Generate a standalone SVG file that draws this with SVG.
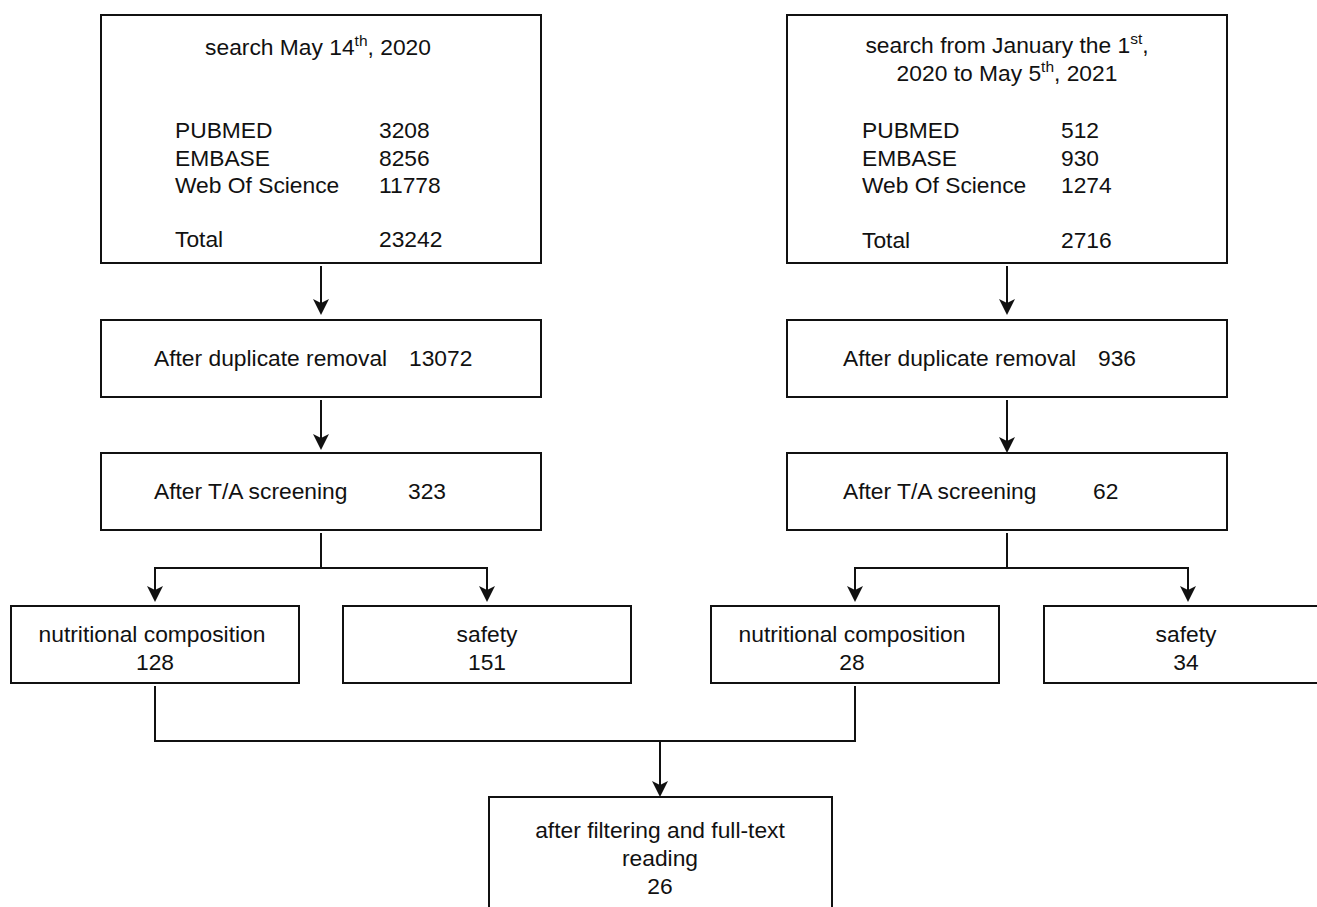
<svg xmlns="http://www.w3.org/2000/svg" width="1317" height="907" viewBox="0 0 1317 907">
<style>
.box{fill:#fff;stroke:#111;stroke-width:2}
.t{font-family:"Liberation Sans",Arial,sans-serif;font-size:22.8px;fill:#111}
.c{text-anchor:middle}
.sup{font-size:15.5px}
.edge{fill:none;stroke:#111;stroke-width:2}
</style>
<defs>
<marker id="ah" viewBox="0 0 16 16" refX="10" refY="8" markerWidth="16" markerHeight="16" orient="auto" markerUnits="userSpaceOnUse">
<path d="M0,0 L16,8 L0,16 L4,8 Z" fill="#111"/>
</marker>
</defs>
<rect width="1317" height="907" fill="#fff"/>

<g id="connectors">
<path class="edge" d="M321,266 V309" marker-end="url(#ah)"/>
<path class="edge" d="M321,400 V444" marker-end="url(#ah)"/>
<path class="edge" d="M321,533 V568 H155 V596" marker-end="url(#ah)"/>
<path class="edge" d="M321,568 H487 V596" marker-end="url(#ah)"/>
<path class="edge" d="M1007,266 V309" marker-end="url(#ah)"/>
<path class="edge" d="M1007,400 V447" marker-end="url(#ah)"/>
<path class="edge" d="M1007,533 V568 H855 V596" marker-end="url(#ah)"/>
<path class="edge" d="M1007,568 H1188 V596" marker-end="url(#ah)"/>
<path class="edge" d="M155,686 V741 H855 V686"/>
<path class="edge" d="M660,741 V791" marker-end="url(#ah)"/>
</g>

<g id="search1">
<rect class="box" x="101" y="15" width="440" height="248"/>
<text class="t c" x="318" y="55">search May 14<tspan class="sup" dy="-9">th</tspan><tspan dy="9">, 2020</tspan></text>
<text class="t" x="175" y="138">PUBMED</text><text class="t" x="379" y="138">3208</text>
<text class="t" x="175" y="166">EMBASE</text><text class="t" x="379" y="166">8256</text>
<text class="t" x="175" y="193">Web Of Science</text><text class="t" x="379" y="193">11778</text>
<text class="t" x="175" y="247">Total</text><text class="t" x="379" y="247">23242</text>
</g>

<g id="search2">
<rect class="box" x="787" y="15" width="440" height="248"/>
<text class="t c" x="1007" y="53">search from January the 1<tspan class="sup" dy="-9">st</tspan><tspan dy="9">,</tspan></text>
<text class="t c" x="1007" y="81">2020 to May 5<tspan class="sup" dy="-9">th</tspan><tspan dy="9">, 2021</tspan></text>
<text class="t" x="862" y="138">PUBMED</text><text class="t" x="1061" y="138">512</text>
<text class="t" x="862" y="166">EMBASE</text><text class="t" x="1061" y="166">930</text>
<text class="t" x="862" y="193">Web Of Science</text><text class="t" x="1061" y="193">1274</text>
<text class="t" x="862" y="248">Total</text><text class="t" x="1061" y="248">2716</text>
</g>

<g id="dup1">
<rect class="box" x="101" y="320" width="440" height="77"/>
<text class="t" x="154" y="366">After duplicate removal</text><text class="t" x="409" y="366">13072</text>
</g>
<g id="dup2">
<rect class="box" x="787" y="320" width="440" height="77"/>
<text class="t" x="843" y="366">After duplicate removal</text><text class="t" x="1098" y="366">936</text>
</g>

<g id="ta1">
<rect class="box" x="101" y="453" width="440" height="77"/>
<text class="t" x="154" y="499">After T/A screening</text><text class="t" x="408" y="499">323</text>
</g>
<g id="ta2">
<rect class="box" x="787" y="453" width="440" height="77"/>
<text class="t" x="843" y="499">After T/A screening</text><text class="t" x="1093" y="499">62</text>
</g>

<g id="nutri1">
<rect class="box" x="11" y="606" width="288" height="77"/>
<text class="t c" x="152" y="642">nutritional composition</text>
<text class="t c" x="155" y="670">128</text>
</g>
<g id="safety1">
<rect class="box" x="343" y="606" width="288" height="77"/>
<text class="t c" x="487" y="642">safety</text>
<text class="t c" x="487" y="670">151</text>
</g>
<g id="nutri2">
<rect class="box" x="711" y="606" width="288" height="77"/>
<text class="t c" x="852" y="642">nutritional composition</text>
<text class="t c" x="852" y="670">28</text>
</g>
<g id="safety2">
<rect class="box" x="1044" y="606" width="290" height="77"/>
<text class="t c" x="1186" y="642">safety</text>
<text class="t c" x="1186" y="670">34</text>
</g>

<g id="final">
<rect class="box" x="489" y="797" width="343" height="130"/>
<text class="t c" x="660" y="838">after filtering and full-text</text>
<text class="t c" x="660" y="866">reading</text>
<text class="t c" x="660" y="894">26</text>
</g>
</svg>
